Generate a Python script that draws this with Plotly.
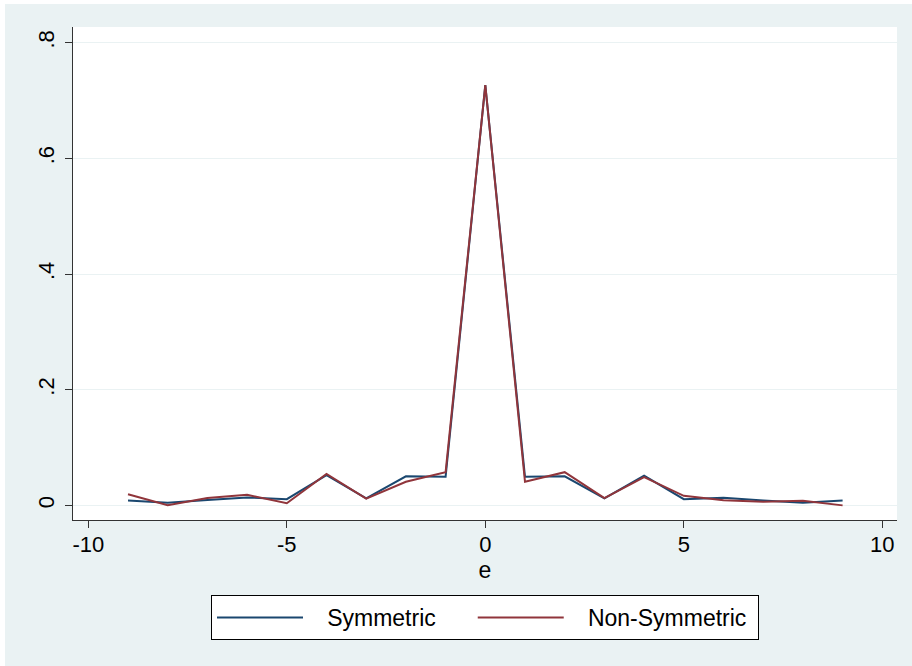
import plotly.graph_objects as go

# data
e_vals = [-9, -8, -7, -6, -5, -4, -3, -2, -1, 0, 1, 2, 3, 4, 5, 6, 7, 8, 9]
symmetric = [0.0086, 0.0047, 0.0095, 0.0140, 0.0110, 0.0525, 0.0125, 0.0505, 0.0495, 0.7265,
             0.0495, 0.0505, 0.0125, 0.0515, 0.0110, 0.0135, 0.0088, 0.0047, 0.0086]
non_symmetric = [0.0195, 0.0005, 0.0130, 0.0184, 0.0040, 0.0547, 0.0120, 0.0410, 0.0576, 0.7265,
                 0.0410, 0.0576, 0.0127, 0.0490, 0.0167, 0.0090, 0.0063, 0.0080, 0.0002]
x_ticks = [-10, -5, 0, 5, 10]
x_tick_labels = ["-10", "-5", "0", "5", "10"]
y_ticks = [0, 0.2, 0.4, 0.6, 0.8]
y_tick_labels = ["0", ".2", ".4", ".6", ".8"]
series_names = ["Symmetric", "Non-Symmetric"]

BG = "#eaf2f3"
NAVY = "#1a476f"
MAROON = "#90353b"
FONT = "Liberation Sans, Arial, sans-serif"
NB = "\u00a0"

# plot area pixel geometry
L, R, T, B = 73, 897, 27, 520
W, H = 912, 666
PW, PH = R - L, B - T

def px(x):
    return (x - L) / PW

def py(y):
    return (B - y) / PH

fig = go.Figure()
fig.add_trace(go.Scatter(x=e_vals, y=symmetric, mode="lines",
                         name=NB * 3 + series_names[0] + NB * 5,
                         line=dict(color=NAVY, width=2)))
fig.add_trace(go.Scatter(x=e_vals, y=non_symmetric, mode="lines",
                         name=NB * 3 + series_names[1] + NB,
                         line=dict(color=MAROON, width=2)))

fig.update_layout(
    width=W, height=H,
    margin=dict(l=L, r=W - R, t=T, b=H - B, pad=0),
    paper_bgcolor=BG,
    plot_bgcolor="white",
    font=dict(family=FONT, size=22, color="black"),
    showlegend=True,
    legend=dict(
        orientation="h",
        x=0.5, xanchor="center",
        y=py(595), yanchor="top",
        bgcolor="white",
        bordercolor="black",
        borderwidth=1,
        itemwidth=86,
        font=dict(size=23),
    ),
    xaxis=dict(
        range=[-10 - 15.3 / 39.7, 10 + 14.7 / 39.7],
        tickmode="array", tickvals=x_ticks, ticktext=x_tick_labels,
        ticklabelstandoff=-3,
        ticks="outside", ticklen=7, tickwidth=1, tickcolor="#333",
        showline=True, linecolor="#333", linewidth=1.3,
        showgrid=False, zeroline=False,
        title=dict(text="e", standoff=5, font=dict(size=23)),
        fixedrange=True,
    ),
    yaxis=dict(
        range=[-14.5 / 578.5, 0.8 + 15.7 / 578.5],
        tickmode="array", tickvals=y_ticks, ticktext=y_tick_labels,
        tickangle=-90, ticklabelstandoff=2,
        ticks="outside", ticklen=7, tickwidth=1, tickcolor="#333",
        showline=True, linecolor="#333", linewidth=1.3,
        showgrid=True, gridcolor=BG, gridwidth=1.3,
        zeroline=False,
        fixedrange=True,
    ),
    shapes=[
        dict(type="rect", xref="paper", yref="paper",
             x0=px(-5), x1=px(W + 5), y0=py(4), y1=py(-5),
             fillcolor="white", line=dict(width=0), layer="below"),
        dict(type="rect", xref="paper", yref="paper",
             x0=px(-5), x1=px(5), y0=py(H + 5), y1=py(-5),
             fillcolor="white", line=dict(width=0), layer="below"),
    ],
)

fig.write_html("out.html",
               config={"displayModeBar": False},
               post_script="document.body.style.margin='0';document.body.style.overflow='hidden';")
